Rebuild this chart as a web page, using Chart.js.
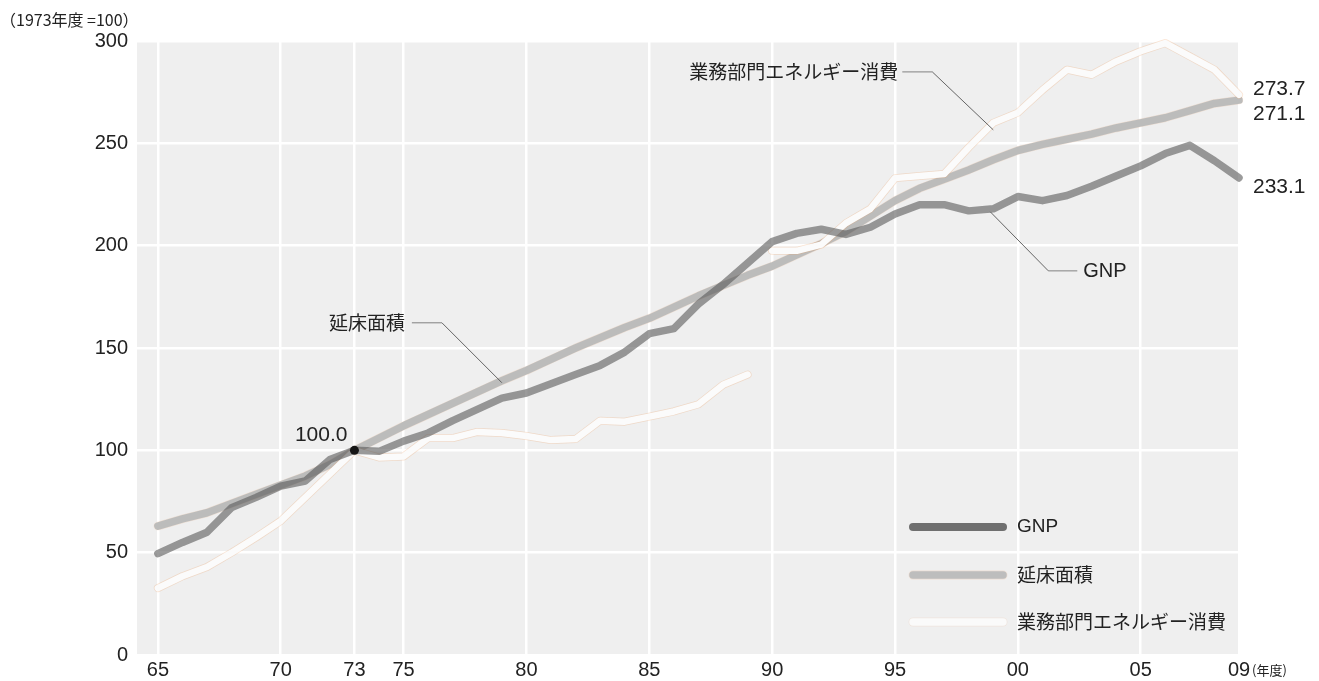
<!DOCTYPE html>
<html lang="ja">
<head>
<meta charset="utf-8">
<title>業務部門エネルギー消費</title>
<script src="https://cdn.jsdelivr.net/npm/chart.js@4.4.1/dist/chart.umd.min.js"></script>
<style>
  html, body { margin: 0; padding: 0; background: #fff; }
  #wrap { width: 1319px; height: 681px; position: relative; }
</style>
</head>
<body>
<div id="wrap"><canvas id="myChart"></canvas></div>
<script>
const years = [1965,1966,1967,1968,1969,1970,1971,1972,1973,1974,1975,1976,1977,1978,1979,
  1980,1981,1982,1983,1984,1985,1986,1987,1988,1989,1990,1991,1992,1993,1994,
  1995,1996,1997,1998,1999,2000,2001,2002,2003,2004,2005,2006,2007,2008,2009];
const tickYears = [1965,1970,1973,1975,1980,1985,1990,1995,2000,2005,2009];
const yTickStep = 50;

const gnp = [49.5,55,60,72,77,82.5,85,95.5,100,99.5,104.5,108.5,114.5,120,125.5,
  128,132.5,137,141.5,148,157,159.5,171.5,181,191.5,202,206,208,205.5,209,
  215.5,220,220,217,218,224,222,224.5,229,234,239,245,249,241.5,233.1];
const floorArea = [63,66.5,69.5,74,78.5,83,87.5,93,100,106,112,117.5,123,128.5,134,
  139,144.5,150,155,160,164.5,170,175.5,180.5,185.5,190,195.5,201,207,214.5,
  222,228,232.5,237,242,246.5,249.5,252,254.5,257.5,260,262.5,266,269.5,271.1];
// energy series is broken between 89 and 90
const energyOld = [32.7,38.5,43,50,57.5,65.5,77,88.5,100,96.5,97,106,106,109,108.5,
  107,105,105.5,114.5,114,116.5,119,122.5,132,137];
const energyNew = [197.5,197.5,200.5,211,218,233,234,235,248,260,265,276,286,283.5,290,
  295,299,292.5,286,273.7];

const baseYear = 1973;
const baseValue = 100;
const names = ["GNP", "延床面積", "業務部門エネルギー消費"];
const unitText = "（1973年度 =100）";
const yearUnitText = "(年度)";

const numFont = "'Liberation Sans', 'Noto Sans CJK JP', sans-serif";
const jpFont = "'Noto Sans CJK JP', 'Liberation Sans', sans-serif";

const toPts = (xs, ys) => ys.map((v, i) => ({ x: xs[i], y: v }));
const energyOldPts = toPts(years.slice(0, energyOld.length), energyOld);
const energyNewPts = toPts(years.slice(years.length - energyNew.length), energyNew);

const lineDs = (label, data, color, width) => ({
  label: label,
  data: data,
  borderColor: color,
  borderWidth: width,
  pointRadius: 0,
  fill: false,
  tension: 0,
  clip: 6,
  borderCapStyle: "round",
  borderJoinStyle: "round",
});

const gnpColor = "rgba(88,88,88,0.6)";
const floorColor = "#bcbcbb";
const floorEdge = "rgba(238,170,120,0.22)";
const energyColor = "#fbfbfb";
const energyEdge = "rgba(240,165,110,0.3)";

const datasets = [
  {
    label: "base",
    data: [{ x: baseYear, y: baseValue }],
    showLine: false,
    pointRadius: 4.5,
    pointBackgroundColor: "#151515",
    pointBorderWidth: 0,
  },
  lineDs(names[0], toPts(years, gnp), gnpColor, 7.5),
  lineDs(names[2], energyOldPts, energyColor, 6.5),
  lineDs(names[2], energyNewPts, energyColor, 6.5),
  lineDs("edge", energyOldPts, energyEdge, 8),
  lineDs("edge", energyNewPts, energyEdge, 8),
  lineDs(names[1], toPts(years, floorArea), floorColor, 7.5),
  lineDs("edge", toPts(years, floorArea), floorEdge, 8.5),
];

const leader = (ctx, pts) => {
  ctx.save();
  ctx.lineWidth = 1.3;
  ctx.strokeStyle = "#9a9a9a";
  ctx.beginPath();
  ctx.moveTo(pts[0][0], pts[0][1]);
  ctx.lineTo(pts[1][0], pts[1][1]);
  ctx.stroke();
  ctx.lineWidth = 0.9;
  ctx.strokeStyle = "#555";
  ctx.beginPath();
  ctx.moveTo(pts[1][0], pts[1][1]);
  ctx.lineTo(pts[2][0], pts[2][1]);
  ctx.stroke();
  ctx.restore();
};

const legendLine = (ctx, x1, x2, y, color, width, edge) => {
  ctx.save();
  ctx.lineCap = "round";
  if (edge) {
    ctx.strokeStyle = edge;
    ctx.lineWidth = width + 1.4;
    ctx.beginPath(); ctx.moveTo(x1, y); ctx.lineTo(x2, y); ctx.stroke();
  }
  ctx.strokeStyle = color;
  ctx.lineWidth = width;
  ctx.beginPath(); ctx.moveTo(x1, y); ctx.lineTo(x2, y); ctx.stroke();
  ctx.restore();
};

const decor = {
  id: "decor",
  beforeDraw: (chart) => {
    const a = chart.chartArea;
    const ctx = chart.ctx;
    ctx.save();
    ctx.fillStyle = "#efefef";
    ctx.fillRect(a.left, a.top, a.right - a.left, a.bottom - a.top);
    ctx.restore();
  },
  afterDraw: (chart) => {
    const ctx = chart.ctx;
    const a = chart.chartArea;
    const xs = chart.scales.x, ys = chart.scales.y;
    const X = (v) => xs.getPixelForValue(v);
    const Y = (v) => ys.getPixelForValue(v);
    ctx.save();
    ctx.fillStyle = "#222";
    ctx.textBaseline = "middle";

    // unit caption
    ctx.font = "16px " + jpFont;
    ctx.textAlign = "left";
    ctx.fillText(unitText, 0, 20);

    // (年度)
    ctx.font = "13px " + jpFont;
    ctx.fillText(yearUnitText, X(years[years.length - 1]) + 13, 670);

    // base value
    ctx.font = "21px " + numFont;
    ctx.textAlign = "right";
    ctx.fillText(baseValue.toFixed(1), X(baseYear) - 7, Y(baseValue) - 15);

    // end values
    ctx.textAlign = "left";
    const ex = a.right + 14;
    const eLast = energyNew[energyNew.length - 1];
    const fLast = floorArea[floorArea.length - 1];
    const gLast = gnp[gnp.length - 1];
    ctx.fillText(eLast.toFixed(1), ex, Y(eLast) - 6);
    ctx.fillText(fLast.toFixed(1), ex, Y(fLast) + 14);
    ctx.fillText(gLast.toFixed(1), ex, Y(gLast) + 9);

    // callouts
    ctx.font = "19px " + jpFont;
    let i = years.indexOf(1999);
    let tx = X(1999), ty = Y(energyNew[i - (years.length - energyNew.length)]) + 7;
    leader(ctx, [[tx - 91, ty - 58], [tx - 61, ty - 58], [tx, ty]]);
    ctx.textAlign = "right";
    ctx.fillText(names[2], tx - 95, ty - 58);

    i = years.indexOf(1979);
    tx = X(1979); ty = Y(floorArea[i]) + 2;
    leader(ctx, [[tx - 90, ty - 60], [tx - 60, ty - 60], [tx, ty]]);
    ctx.fillText(names[1], tx - 97, ty - 60);

    i = years.indexOf(1999);
    tx = X(1999) - 3; ty = Y(gnp[i]) + 3;
    leader(ctx, [[tx + 87, ty + 59], [tx + 58, ty + 59], [tx, ty]]);
    ctx.textAlign = "left";
    ctx.font = "20px " + numFont;
    ctx.fillText(names[0], tx + 93, ty + 60);

    // legend
    const lx = a.right - 326;
    const rows = [a.bottom - 128, a.bottom - 80, a.bottom - 33];
    legendLine(ctx, lx, lx + 90, rows[0], "#6f6f6f", 8);
    legendLine(ctx, lx, lx + 90, rows[1], "#bdbdbd", 7.5, floorEdge);
    legendLine(ctx, lx, lx + 90, rows[2], "#fafafa", 7.5, "rgba(240,170,120,0.15)");
    ctx.fillStyle = "#222";
    ctx.textAlign = "left";
    ctx.font = "19px " + numFont;
    ctx.fillText(names[0], lx + 104, rows[0]);
    ctx.font = "19px " + jpFont;
    ctx.fillText(names[1], lx + 104, rows[1]);
    ctx.fillText(names[2], lx + 104, rows[2]);
    ctx.restore();
  },
};

const chart = new Chart("myChart", {
  type: "line",
  data: { datasets: datasets },
  plugins: [decor],
  options: {
    responsive: true,
    maintainAspectRatio: false,
    animation: false,
    layout: { padding: { top: 41, right: 80, left: 0, bottom: 0 } },
    plugins: { legend: { display: false }, tooltip: { enabled: false } },
    scales: {
      x: {
        type: "linear",
        min: 1964.15,
        max: 2009,
        afterBuildTicks: (s) => { s.ticks = tickYears.map((v) => ({ value: v })); },
        afterFit: (s) => { s.height = 26; },
        ticks: {
          autoSkip: false,
          maxRotation: 0,
          padding: 3,
          color: "#222",
          font: { size: 20, family: numFont },
          callback: (v) => String(v).slice(2),
        },
        grid: { color: "#ffffff", lineWidth: 2.5, drawTicks: false },
        border: { display: false },
      },
      y: {
        min: 0,
        max: 300,
        afterFit: (s) => { s.width = 137; },
        ticks: {
          stepSize: yTickStep,
          padding: 9,
          color: "#222",
          font: { size: 20, family: numFont },
        },
        grid: { color: "#ffffff", lineWidth: 2.5, drawTicks: false },
        border: { display: false },
      },
    },
  },
});
</script>
</body>
</html>
